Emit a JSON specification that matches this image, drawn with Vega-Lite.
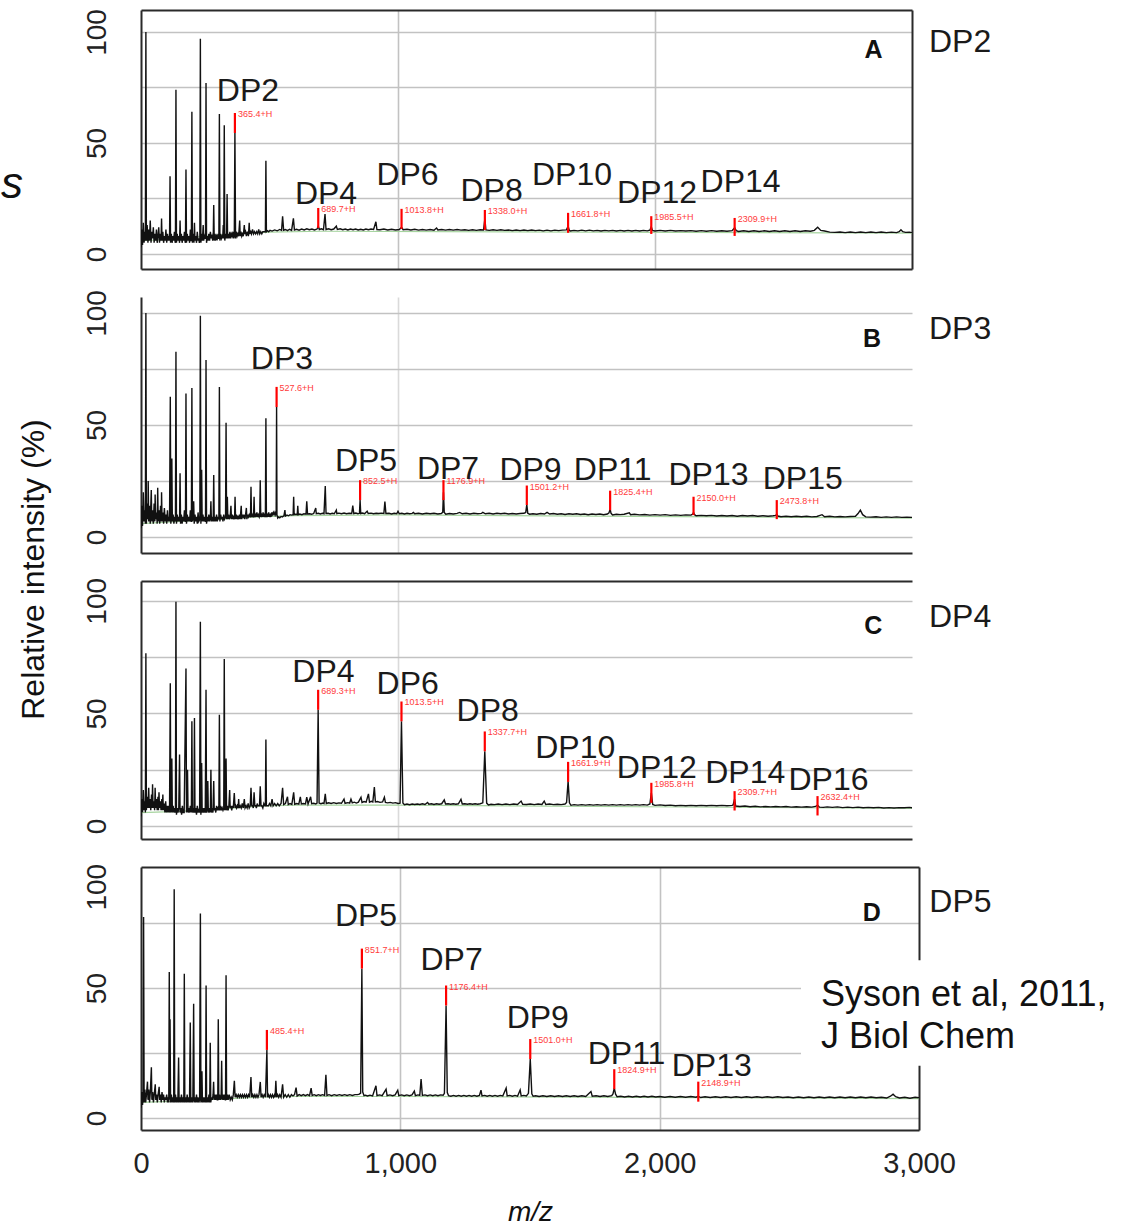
{
"$schema": "https://vega.github.io/schema/vega-lite/v6.json",
"usermeta": {"embedOptions": {"actions": false}},
"background": "white",
"padding": {"left": 0, "top": 8, "right": 0, "bottom": 0},
"config": {
  "font": "Liberation Sans",
  "view": {"stroke": null},
  "axis": {"domainColor": "#2a2a2a", "domainWidth": 2, "ticks": false, "gridColor": "#c2c2c2", "gridWidth": 1.6, "labelFont": "Liberation Sans", "labelColor": "#222", "labelFlush": false, "labelOverlap": false, "titleFont": "Liberation Sans", "titleFontWeight": "normal", "titleColor": "#111"},
  "axisY": {"labelAngle": -90, "labelAlign": "center", "labelBaseline": "alphabetic", "labelPadding": 36, "labelFontSize": 28},
  "axisX": {"labelFontSize": 29, "labelPadding": 19, "labelAlign": "center"}
},
"datasets": {
"A": [{"m":0,"v":3},{"m":3,"v":11},{"m":6,"v":4},{"m":9,"v":14},{"m":12,"v":5},{"m":15,"v":10},{"m":17,"v":6},{"m":19,"v":100},{"m":21,"v":6},{"m":24,"v":13},{"m":27,"v":5},{"m":30,"v":11},{"m":33,"v":6},{"m":36,"v":15},{"m":39,"v":5},{"m":42,"v":10},{"m":45,"v":7},{"m":48,"v":12},{"m":51,"v":5},{"m":54,"v":9},{"m":57,"v":6},{"m":60,"v":11},{"m":63,"v":5},{"m":66,"v":8},{"m":69,"v":12},{"m":72,"v":5},{"m":75,"v":9},{"m":78,"v":6},{"m":80,"v":16},{"m":82,"v":6},{"m":85,"v":10},{"m":88,"v":5},{"m":91,"v":8},{"m":94,"v":6},{"m":97,"v":11},{"m":100,"v":5},{"m":103,"v":9},{"m":106,"v":6},{"m":109,"v":8},{"m":111,"v":6},{"m":113,"v":35},{"m":115,"v":5},{"m":118,"v":9},{"m":121,"v":5},{"m":124,"v":8},{"m":127,"v":6},{"m":130,"v":10},{"m":133,"v":5},{"m":134,"v":6},{"m":136,"v":74},{"m":138,"v":5},{"m":141,"v":9},{"m":144,"v":6},{"m":147,"v":8},{"m":150,"v":5},{"m":152,"v":15},{"m":154,"v":6},{"m":157,"v":9},{"m":160,"v":5},{"m":163,"v":8},{"m":166,"v":6},{"m":169,"v":10},{"m":172,"v":5},{"m":173,"v":6},{"m":175,"v":38},{"m":177,"v":5},{"m":180,"v":9},{"m":183,"v":6},{"m":186,"v":8},{"m":189,"v":5},{"m":192,"v":11},{"m":194,"v":6},{"m":196,"v":6},{"m":198,"v":64},{"m":200,"v":5},{"m":203,"v":9},{"m":206,"v":5},{"m":208,"v":14},{"m":210,"v":6},{"m":213,"v":8},{"m":216,"v":5},{"m":219,"v":10},{"m":222,"v":6},{"m":225,"v":7},{"m":227,"v":5},{"m":229,"v":7},{"m":231,"v":97},{"m":233,"v":5},{"m":236,"v":9},{"m":239,"v":6},{"m":242,"v":13},{"m":244,"v":6},{"m":247,"v":8},{"m":250,"v":7},{"m":251,"v":7},{"m":253,"v":77},{"m":255,"v":5},{"m":258,"v":8},{"m":261,"v":6},{"m":264,"v":9},{"m":267,"v":6},{"m":270,"v":10},{"m":273,"v":7},{"m":276,"v":8},{"m":279,"v":6},{"m":281,"v":7},{"m":283,"v":22},{"m":285,"v":6},{"m":288,"v":9},{"m":291,"v":6},{"m":294,"v":8},{"m":297,"v":7},{"m":300,"v":9},{"m":302,"v":7},{"m":303,"v":7},{"m":305,"v":63},{"m":307,"v":6},{"m":310,"v":9},{"m":313,"v":7},{"m":316,"v":8},{"m":318,"v":7},{"m":320,"v":13},{"m":322,"v":7},{"m":324,"v":58},{"m":326,"v":6},{"m":329,"v":9},{"m":332,"v":7},{"m":333,"v":8},{"m":335,"v":27},{"m":337,"v":7},{"m":340,"v":9},{"m":343,"v":7},{"m":346,"v":10},{"m":349,"v":7},{"m":352,"v":9},{"m":355,"v":8},{"m":358,"v":10},{"m":361,"v":7},{"m":363,"v":8},{"m":365.4,"v":55},{"m":368,"v":7},{"m":371,"v":10},{"m":374,"v":8},{"m":377,"v":9},{"m":380,"v":8},{"m":384,"v":15},{"m":386,"v":8},{"m":389,"v":10},{"m":392,"v":8},{"m":395,"v":9},{"m":398,"v":8},{"m":402,"v":13},{"m":404,"v":9},{"m":407,"v":10},{"m":410,"v":8},{"m":414,"v":10},{"m":418,"v":8},{"m":421,"v":14},{"m":423,"v":9},{"m":427,"v":10},{"m":430,"v":9},{"m":434,"v":11},{"m":438,"v":9},{"m":442,"v":10},{"m":446,"v":9},{"m":450,"v":10},{"m":454,"v":9},{"m":458,"v":11},{"m":462,"v":9},{"m":466,"v":10},{"m":470,"v":9},{"m":474,"v":10},{"m":478,"v":10},{"m":482,"v":10},{"m":484,"v":10},{"m":486,"v":42},{"m":488,"v":10},{"m":492,"v":10.5},{"m":497,"v":10},{"m":502,"v":10.6},{"m":510,"v":10.3},{"m":520,"v":10.8},{"m":530,"v":10.4},{"m":540,"v":11},{"m":547,"v":10.6},{"m":551,"v":17},{"m":555,"v":10.7},{"m":562,"v":11},{"m":570,"v":10.5},{"m":578,"v":11.1},{"m":586,"v":10.6},{"m":593,"v":16},{"m":597,"v":10.8},{"m":605,"v":11.1},{"m":615,"v":10.7},{"m":625,"v":11.2},{"m":635,"v":10.8},{"m":645,"v":11.3},{"m":655,"v":10.9},{"m":665,"v":11.2},{"m":675,"v":10.8},{"m":685,"v":11.2},{"m":689.7,"v":12.5},{"m":694,"v":11},{"m":702,"v":11.3},{"m":710,"v":10.9},{"m":716,"v":18},{"m":720,"v":11},{"m":730,"v":11.3},{"m":740,"v":10.9},{"m":750,"v":11.2},{"m":760,"v":12.5},{"m":764,"v":11},{"m":775,"v":11.3},{"m":785,"v":10.9},{"m":795,"v":11.2},{"m":805,"v":10.8},{"m":815,"v":11.2},{"m":825,"v":10.9},{"m":835,"v":11.2},{"m":845,"v":10.8},{"m":855,"v":11.1},{"m":865,"v":10.8},{"m":875,"v":11.2},{"m":885,"v":10.9},{"m":895,"v":11.2},{"m":905,"v":11},{"m":914,"v":14.5},{"m":918,"v":11},{"m":930,"v":10.9},{"m":945,"v":11.2},{"m":960,"v":10.8},{"m":975,"v":11.1},{"m":990,"v":10.8},{"m":1005,"v":11},{"m":1013.8,"v":12},{"m":1020,"v":10.9},{"m":1035,"v":11.1},{"m":1050,"v":10.8},{"m":1065,"v":11.1},{"m":1080,"v":10.7},{"m":1095,"v":11},{"m":1110,"v":10.7},{"m":1125,"v":11},{"m":1140,"v":10.7},{"m":1150,"v":11.7},{"m":1155,"v":10.8},{"m":1170,"v":11},{"m":1185,"v":10.7},{"m":1200,"v":11},{"m":1215,"v":10.7},{"m":1230,"v":11},{"m":1245,"v":10.7},{"m":1260,"v":10.9},{"m":1275,"v":10.6},{"m":1290,"v":10.9},{"m":1305,"v":10.6},{"m":1320,"v":10.9},{"m":1333,"v":10.8},{"m":1338,"v":15.8},{"m":1342,"v":10.8},{"m":1355,"v":10.6},{"m":1370,"v":10.9},{"m":1385,"v":10.6},{"m":1400,"v":10.9},{"m":1415,"v":10.6},{"m":1430,"v":10.8},{"m":1445,"v":10.5},{"m":1460,"v":10.8},{"m":1475,"v":10.5},{"m":1490,"v":10.8},{"m":1505,"v":10.5},{"m":1520,"v":10.8},{"m":1535,"v":10.5},{"m":1550,"v":10.7},{"m":1565,"v":10.4},{"m":1580,"v":10.7},{"m":1595,"v":10.4},{"m":1610,"v":10.7},{"m":1625,"v":10.5},{"m":1640,"v":10.7},{"m":1655,"v":10.8},{"m":1661.8,"v":12.5},{"m":1666,"v":10.8},{"m":1670,"v":10.3},{"m":1685,"v":10.6},{"m":1700,"v":10.4},{"m":1715,"v":10.7},{"m":1730,"v":10.4},{"m":1745,"v":10.7},{"m":1760,"v":10.4},{"m":1775,"v":10.6},{"m":1790,"v":10.3},{"m":1805,"v":10.6},{"m":1820,"v":10.4},{"m":1835,"v":10.6},{"m":1850,"v":10.3},{"m":1865,"v":10.6},{"m":1880,"v":10.3},{"m":1895,"v":10.6},{"m":1910,"v":10.3},{"m":1925,"v":10.6},{"m":1940,"v":10.3},{"m":1955,"v":10.6},{"m":1970,"v":10.4},{"m":1980,"v":10.7},{"m":1985.5,"v":12.2},{"m":1990,"v":10.6},{"m":2000,"v":10.3},{"m":2020,"v":10.6},{"m":2040,"v":10.3},{"m":2060,"v":10.6},{"m":2080,"v":10.3},{"m":2100,"v":10.5},{"m":2120,"v":10.3},{"m":2140,"v":10.5},{"m":2160,"v":10.2},{"m":2180,"v":10.5},{"m":2200,"v":10.2},{"m":2220,"v":10.5},{"m":2240,"v":10.2},{"m":2260,"v":10.4},{"m":2280,"v":10.2},{"m":2300,"v":10.5},{"m":2309.9,"v":11.8},{"m":2316,"v":10.5},{"m":2325,"v":10.1},{"m":2345,"v":10.4},{"m":2365,"v":10.1},{"m":2385,"v":10.4},{"m":2405,"v":10.1},{"m":2425,"v":10.4},{"m":2445,"v":10.1},{"m":2465,"v":10.4},{"m":2485,"v":10.1},{"m":2505,"v":10.4},{"m":2525,"v":10.1},{"m":2545,"v":10.4},{"m":2565,"v":10.1},{"m":2585,"v":10.4},{"m":2605,"v":10.2},{"m":2620,"v":10.6},{"m":2633,"v":12},{"m":2645,"v":10.6},{"m":2660,"v":10.3},{"m":2680,"v":9.8},{"m":2700,"v":9.7},{"m":2720,"v":9.9},{"m":2740,"v":9.6},{"m":2760,"v":9.9},{"m":2780,"v":9.6},{"m":2800,"v":9.9},{"m":2820,"v":9.6},{"m":2840,"v":9.9},{"m":2860,"v":9.6},{"m":2880,"v":9.9},{"m":2900,"v":9.6},{"m":2920,"v":9.8},{"m":2940,"v":9.6},{"m":2950,"v":10},{"m":2957,"v":10.9},{"m":2964,"v":10},{"m":2975,"v":9.7},{"m":2990,"v":9.8},{"m":3000,"v":9.6}],
"B": [{"m":0,"v":4},{"m":3,"v":14},{"m":6,"v":5},{"m":9,"v":20},{"m":12,"v":7},{"m":15,"v":12},{"m":17,"v":6},{"m":19,"v":100},{"m":21,"v":6},{"m":24,"v":15},{"m":27,"v":8},{"m":28,"v":25},{"m":30,"v":7},{"m":33,"v":14},{"m":36,"v":6},{"m":40,"v":21},{"m":42,"v":7},{"m":45,"v":12},{"m":48,"v":6},{"m":51,"v":15},{"m":54,"v":7},{"m":55,"v":19},{"m":57,"v":8},{"m":60,"v":11},{"m":63,"v":6},{"m":65,"v":22},{"m":67,"v":7},{"m":70,"v":12},{"m":73,"v":6},{"m":76,"v":14},{"m":79,"v":7},{"m":80,"v":20},{"m":82,"v":7},{"m":85,"v":11},{"m":88,"v":6},{"m":91,"v":13},{"m":94,"v":7},{"m":97,"v":10},{"m":100,"v":6},{"m":103,"v":12},{"m":106,"v":7},{"m":109,"v":9},{"m":111,"v":7},{"m":114,"v":62.6},{"m":116,"v":6},{"m":118,"v":9},{"m":120,"v":35},{"m":122,"v":7},{"m":125,"v":10},{"m":128,"v":6},{"m":131,"v":9},{"m":134,"v":7},{"m":136,"v":82.7},{"m":138,"v":6},{"m":141,"v":10},{"m":144,"v":7},{"m":147,"v":9},{"m":150,"v":7},{"m":152,"v":28.5},{"m":154,"v":6},{"m":157,"v":10},{"m":160,"v":6},{"m":163,"v":9},{"m":166,"v":7},{"m":169,"v":12},{"m":172,"v":7},{"m":173,"v":7},{"m":175,"v":64},{"m":177,"v":6},{"m":180,"v":10},{"m":183,"v":7},{"m":186,"v":9},{"m":189,"v":7},{"m":192,"v":12},{"m":195,"v":7},{"m":196,"v":7},{"m":198,"v":66.5},{"m":200,"v":7},{"m":203,"v":9},{"m":205,"v":16},{"m":207,"v":6},{"m":210,"v":10},{"m":213,"v":7},{"m":216,"v":9},{"m":219,"v":6},{"m":222,"v":11},{"m":225,"v":7},{"m":229,"v":8},{"m":231,"v":98.7},{"m":233,"v":6},{"m":236,"v":30},{"m":238,"v":7},{"m":241,"v":10},{"m":244,"v":7},{"m":247,"v":9},{"m":250,"v":7},{"m":251,"v":7},{"m":253,"v":79},{"m":255,"v":6},{"m":258,"v":9},{"m":261,"v":7},{"m":264,"v":10},{"m":267,"v":7},{"m":270,"v":9},{"m":272,"v":16},{"m":274,"v":7},{"m":277,"v":9},{"m":280,"v":7},{"m":281,"v":8},{"m":283,"v":27.7},{"m":285,"v":7},{"m":288,"v":9},{"m":291,"v":7},{"m":294,"v":10},{"m":297,"v":7},{"m":300,"v":9},{"m":303,"v":8},{"m":305,"v":67},{"m":307,"v":7},{"m":310,"v":10},{"m":313,"v":8},{"m":316,"v":9},{"m":319,"v":7},{"m":322,"v":10},{"m":325,"v":8},{"m":329,"v":9},{"m":331,"v":51},{"m":333,"v":8},{"m":336,"v":18},{"m":338,"v":8},{"m":341,"v":10},{"m":344,"v":8},{"m":347,"v":9},{"m":350,"v":14},{"m":352,"v":8},{"m":355,"v":10},{"m":358,"v":8},{"m":361,"v":9},{"m":364,"v":8},{"m":366,"v":18},{"m":368,"v":8},{"m":371,"v":10},{"m":374,"v":8},{"m":377,"v":9},{"m":380,"v":8},{"m":383,"v":10},{"m":386,"v":8},{"m":390,"v":14},{"m":392,"v":8},{"m":395,"v":10},{"m":398,"v":9},{"m":401,"v":10},{"m":404,"v":8},{"m":407,"v":10},{"m":410,"v":13},{"m":412,"v":8},{"m":415,"v":10},{"m":418,"v":9},{"m":421,"v":10},{"m":424,"v":9},{"m":426,"v":9},{"m":428,"v":22.5},{"m":430,"v":9},{"m":433,"v":10},{"m":436,"v":9},{"m":438,"v":9},{"m":440,"v":18},{"m":442,"v":9},{"m":445,"v":10},{"m":448,"v":9},{"m":451,"v":11},{"m":454,"v":9},{"m":457,"v":10},{"m":460,"v":9},{"m":462,"v":10},{"m":464,"v":25.4},{"m":466,"v":9},{"m":469,"v":10},{"m":472,"v":9},{"m":475,"v":11},{"m":478,"v":9},{"m":481,"v":10},{"m":484,"v":9},{"m":486,"v":53},{"m":488,"v":9},{"m":491,"v":10},{"m":494,"v":9},{"m":497,"v":11},{"m":500,"v":9},{"m":503,"v":10},{"m":506,"v":9},{"m":509,"v":11},{"m":512,"v":10},{"m":515,"v":11},{"m":518,"v":10},{"m":521,"v":11},{"m":524,"v":10},{"m":526,"v":11},{"m":527.6,"v":58},{"m":529,"v":10},{"m":532,"v":8.5},{"m":536,"v":9},{"m":540,"v":8.6},{"m":545,"v":9.2},{"m":550,"v":9},{"m":556,"v":9.5},{"m":560,"v":12},{"m":562,"v":9.4},{"m":568,"v":9.8},{"m":574,"v":9.5},{"m":580,"v":10},{"m":586,"v":9.8},{"m":592,"v":10},{"m":594,"v":18},{"m":596,"v":10},{"m":602,"v":10.2},{"m":608,"v":10},{"m":610,"v":14},{"m":612,"v":10},{"m":618,"v":10.3},{"m":626,"v":10},{"m":634,"v":10.4},{"m":642,"v":10.2},{"m":645,"v":16},{"m":648,"v":10.3},{"m":656,"v":10.4},{"m":664,"v":10.2},{"m":672,"v":10.5},{"m":680,"v":13},{"m":682,"v":10.4},{"m":690,"v":10.6},{"m":698,"v":10.3},{"m":706,"v":10.6},{"m":712,"v":10.4},{"m":717,"v":22.8},{"m":720,"v":10.5},{"m":728,"v":10.6},{"m":736,"v":10.3},{"m":744,"v":10.6},{"m":752,"v":10.4},{"m":760,"v":12},{"m":762,"v":10.5},{"m":770,"v":10.7},{"m":780,"v":10.4},{"m":790,"v":10.7},{"m":800,"v":10.4},{"m":810,"v":10.6},{"m":820,"v":10.5},{"m":824,"v":14},{"m":828,"v":10.5},{"m":836,"v":10.7},{"m":844,"v":10.4},{"m":850,"v":10.6},{"m":852.5,"v":16.5},{"m":855,"v":10.5},{"m":862,"v":10.7},{"m":870,"v":10.4},{"m":880,"v":11.5},{"m":884,"v":10.5},{"m":895,"v":10.7},{"m":905,"v":10.4},{"m":915,"v":10.6},{"m":925,"v":10.5},{"m":935,"v":10.7},{"m":945,"v":10.5},{"m":949,"v":15.8},{"m":953,"v":10.5},{"m":965,"v":10.6},{"m":975,"v":10.3},{"m":985,"v":10.6},{"m":995,"v":10.4},{"m":1000,"v":11.5},{"m":1005,"v":10.4},{"m":1015,"v":10.6},{"m":1025,"v":10.3},{"m":1035,"v":10.6},{"m":1045,"v":10.4},{"m":1055,"v":10.6},{"m":1060,"v":11},{"m":1065,"v":10.4},{"m":1080,"v":10.6},{"m":1095,"v":10.3},{"m":1110,"v":10.6},{"m":1125,"v":10.4},{"m":1140,"v":10.6},{"m":1155,"v":10.3},{"m":1168,"v":10.5},{"m":1174,"v":11},{"m":1176.9,"v":20},{"m":1180,"v":11},{"m":1186,"v":10.2},{"m":1200,"v":10.5},{"m":1215,"v":10.3},{"m":1230,"v":10.6},{"m":1240,"v":11},{"m":1250,"v":10.4},{"m":1265,"v":10.6},{"m":1280,"v":10.3},{"m":1295,"v":10.6},{"m":1310,"v":10.4},{"m":1325,"v":10.6},{"m":1330,"v":11},{"m":1340,"v":10.4},{"m":1355,"v":10.6},{"m":1370,"v":10.3},{"m":1385,"v":10.6},{"m":1400,"v":10.4},{"m":1415,"v":10.6},{"m":1430,"v":10.3},{"m":1445,"v":10.5},{"m":1460,"v":10.3},{"m":1475,"v":10.5},{"m":1490,"v":10.6},{"m":1497,"v":11},{"m":1501.2,"v":14.5},{"m":1505,"v":10.6},{"m":1512,"v":10.2},{"m":1525,"v":10.4},{"m":1540,"v":10.2},{"m":1555,"v":10.5},{"m":1570,"v":10.3},{"m":1580,"v":11},{"m":1590,"v":10.3},{"m":1605,"v":10.5},{"m":1620,"v":10.2},{"m":1635,"v":10.4},{"m":1650,"v":10.1},{"m":1665,"v":10.4},{"m":1680,"v":10.2},{"m":1695,"v":10.4},{"m":1710,"v":10.1},{"m":1725,"v":10.3},{"m":1740,"v":10},{"m":1755,"v":10.3},{"m":1770,"v":10.1},{"m":1785,"v":10.3},{"m":1800,"v":10},{"m":1815,"v":10.3},{"m":1821,"v":10.8},{"m":1825.4,"v":12.5},{"m":1829,"v":10.6},{"m":1835,"v":9.9},{"m":1850,"v":10.2},{"m":1865,"v":10},{"m":1880,"v":10.2},{"m":1900,"v":10.8},{"m":1905,"v":10},{"m":1920,"v":10.2},{"m":1940,"v":9.9},{"m":1960,"v":10.1},{"m":1980,"v":9.8},{"m":2000,"v":10},{"m":2020,"v":9.8},{"m":2040,"v":10},{"m":2060,"v":9.7},{"m":2080,"v":9.9},{"m":2100,"v":9.7},{"m":2120,"v":9.9},{"m":2140,"v":9.8},{"m":2147,"v":10.3},{"m":2150,"v":11},{"m":2154,"v":10},{"m":2160,"v":9.5},{"m":2180,"v":9.7},{"m":2200,"v":9.5},{"m":2220,"v":9.7},{"m":2240,"v":9.4},{"m":2260,"v":9.6},{"m":2280,"v":9.4},{"m":2300,"v":9.6},{"m":2320,"v":9.3},{"m":2340,"v":9.6},{"m":2360,"v":9.4},{"m":2380,"v":9.6},{"m":2400,"v":9.3},{"m":2420,"v":9.5},{"m":2440,"v":9.3},{"m":2460,"v":9.5},{"m":2470,"v":9.7},{"m":2473.8,"v":10.3},{"m":2478,"v":9.4},{"m":2490,"v":9.1},{"m":2510,"v":9.3},{"m":2530,"v":9.1},{"m":2550,"v":9.3},{"m":2570,"v":9.1},{"m":2590,"v":9.3},{"m":2610,"v":9},{"m":2630,"v":9.2},{"m":2650,"v":10},{"m":2660,"v":9.1},{"m":2680,"v":9.3},{"m":2700,"v":9},{"m":2720,"v":9.2},{"m":2740,"v":9},{"m":2760,"v":9.2},{"m":2780,"v":9.3},{"m":2790,"v":10.5},{"m":2799,"v":12},{"m":2808,"v":10},{"m":2820,"v":9},{"m":2840,"v":8.9},{"m":2860,"v":9.1},{"m":2880,"v":8.8},{"m":2900,"v":9},{"m":2920,"v":8.8},{"m":2940,"v":9},{"m":2960,"v":8.8},{"m":2980,"v":8.9},{"m":3000,"v":8.8}],
"C": [{"m":0,"v":4.4},{"m":3,"v":12},{"m":6,"v":6},{"m":9,"v":16},{"m":12,"v":7},{"m":15,"v":11},{"m":17,"v":6},{"m":19,"v":76.7},{"m":21,"v":7},{"m":24,"v":13},{"m":27,"v":8},{"m":30,"v":17},{"m":32,"v":8},{"m":35,"v":12},{"m":38,"v":7},{"m":41,"v":14},{"m":43,"v":8},{"m":45,"v":18.6},{"m":47,"v":8},{"m":50,"v":11},{"m":53,"v":7},{"m":55,"v":17},{"m":57,"v":8},{"m":60,"v":12},{"m":63,"v":7},{"m":66,"v":13},{"m":68,"v":7},{"m":70,"v":15},{"m":72,"v":8},{"m":75,"v":11},{"m":78,"v":7},{"m":81,"v":12},{"m":83,"v":7},{"m":85,"v":14},{"m":87,"v":7},{"m":90,"v":10},{"m":93,"v":6},{"m":96,"v":11},{"m":99,"v":6},{"m":102,"v":9},{"m":105,"v":6},{"m":108,"v":9},{"m":111,"v":6},{"m":114,"v":63.4},{"m":116,"v":6},{"m":118,"v":8},{"m":120,"v":30},{"m":122,"v":6},{"m":125,"v":9},{"m":128,"v":6},{"m":131,"v":8},{"m":134,"v":6},{"m":136,"v":99.6},{"m":138,"v":5},{"m":141,"v":8},{"m":144,"v":6},{"m":147,"v":8},{"m":150,"v":31.8},{"m":152,"v":6},{"m":155,"v":8},{"m":158,"v":5},{"m":161,"v":9},{"m":164,"v":6},{"m":166,"v":6},{"m":168,"v":6},{"m":175,"v":70},{"m":177,"v":6},{"m":179,"v":8},{"m":181,"v":25},{"m":183,"v":6},{"m":186,"v":8},{"m":189,"v":6},{"m":192,"v":9},{"m":195,"v":6},{"m":196,"v":7},{"m":198,"v":46.5},{"m":200,"v":6},{"m":203,"v":8},{"m":206,"v":6},{"m":208,"v":48},{"m":210,"v":6},{"m":213,"v":8},{"m":216,"v":5},{"m":219,"v":9},{"m":222,"v":6},{"m":225,"v":7},{"m":228,"v":6},{"m":231,"v":90.7},{"m":233,"v":5},{"m":236,"v":28},{"m":238,"v":6},{"m":241,"v":8},{"m":244,"v":6},{"m":247,"v":8},{"m":250,"v":6},{"m":253,"v":60.5},{"m":255,"v":6},{"m":258,"v":8},{"m":260,"v":20},{"m":262,"v":6},{"m":265,"v":8},{"m":268,"v":6},{"m":270,"v":8},{"m":272,"v":25},{"m":274,"v":6},{"m":277,"v":8},{"m":280,"v":6},{"m":283,"v":20},{"m":285,"v":7},{"m":288,"v":8},{"m":291,"v":6},{"m":294,"v":9},{"m":297,"v":7},{"m":300,"v":8},{"m":303,"v":7},{"m":305,"v":49.4},{"m":307,"v":7},{"m":310,"v":9},{"m":313,"v":7},{"m":316,"v":8},{"m":319,"v":7},{"m":322,"v":8},{"m":324,"v":74.2},{"m":326,"v":7},{"m":329,"v":8},{"m":331,"v":30},{"m":333,"v":7},{"m":336,"v":9},{"m":339,"v":7},{"m":342,"v":9},{"m":345,"v":16},{"m":347,"v":8},{"m":350,"v":9},{"m":353,"v":7},{"m":356,"v":9},{"m":359,"v":8},{"m":363,"v":14.7},{"m":366,"v":8},{"m":369,"v":9},{"m":372,"v":8},{"m":375,"v":9},{"m":378,"v":8},{"m":380,"v":12},{"m":382,"v":8},{"m":386,"v":9},{"m":390,"v":8},{"m":394,"v":10},{"m":398,"v":8},{"m":402,"v":12},{"m":405,"v":8},{"m":409,"v":9},{"m":413,"v":8},{"m":417,"v":10},{"m":421,"v":8},{"m":425,"v":9},{"m":428,"v":17},{"m":431,"v":9},{"m":434,"v":9},{"m":437,"v":8},{"m":440,"v":15},{"m":443,"v":9},{"m":446,"v":9},{"m":449,"v":8},{"m":452,"v":10},{"m":455,"v":9},{"m":458,"v":9},{"m":461,"v":9},{"m":464,"v":17.7},{"m":467,"v":9},{"m":470,"v":9},{"m":474,"v":8},{"m":478,"v":10},{"m":482,"v":9},{"m":484,"v":9},{"m":486,"v":38.4},{"m":488,"v":9},{"m":492,"v":9},{"m":496,"v":9},{"m":500,"v":10},{"m":505,"v":9},{"m":510,"v":12},{"m":514,"v":9},{"m":520,"v":10},{"m":526,"v":9},{"m":532,"v":10},{"m":538,"v":9},{"m":545,"v":10},{"m":551,"v":17},{"m":555,"v":9.5},{"m":562,"v":10},{"m":570,"v":13},{"m":573,"v":9.5},{"m":580,"v":10},{"m":587,"v":9.6},{"m":594,"v":15},{"m":598,"v":9.7},{"m":606,"v":10},{"m":614,"v":9.7},{"m":620,"v":13},{"m":624,"v":9.8},{"m":632,"v":10},{"m":640,"v":9.8},{"m":645,"v":12.8},{"m":650,"v":9.8},{"m":660,"v":13},{"m":664,"v":9.9},{"m":672,"v":10.1},{"m":680,"v":9.8},{"m":685,"v":10.2},{"m":689.3,"v":51.6},{"m":693,"v":10.2},{"m":700,"v":9.9},{"m":708,"v":10.2},{"m":712,"v":10},{"m":717,"v":14.3},{"m":721,"v":10},{"m":730,"v":10.3},{"m":740,"v":10},{"m":750,"v":10.4},{"m":760,"v":10},{"m":770,"v":10.3},{"m":780,"v":10.1},{"m":790,"v":12},{"m":794,"v":10.1},{"m":805,"v":10.4},{"m":812,"v":10.2},{"m":817,"v":11.9},{"m":822,"v":10.3},{"m":830,"v":10.6},{"m":838,"v":10.2},{"m":846,"v":10.6},{"m":856,"v":12.8},{"m":860,"v":10.5},{"m":868,"v":10.9},{"m":876,"v":10.6},{"m":885,"v":14.3},{"m":889,"v":10.6},{"m":896,"v":11},{"m":902,"v":10.7},{"m":908,"v":17.3},{"m":912,"v":10.7},{"m":920,"v":10.9},{"m":930,"v":10.5},{"m":940,"v":10.7},{"m":947,"v":12.8},{"m":951,"v":10.5},{"m":960,"v":10.3},{"m":970,"v":10.5},{"m":980,"v":10.2},{"m":990,"v":10.4},{"m":1000,"v":10},{"m":1008,"v":10.2},{"m":1013.5,"v":46.5},{"m":1019,"v":10.2},{"m":1025,"v":9.5},{"m":1035,"v":9.8},{"m":1045,"v":9.5},{"m":1055,"v":9.8},{"m":1065,"v":9.6},{"m":1075,"v":9.8},{"m":1085,"v":9.6},{"m":1095,"v":9.9},{"m":1105,"v":9.6},{"m":1115,"v":10.5},{"m":1120,"v":9.7},{"m":1130,"v":9.9},{"m":1140,"v":9.6},{"m":1150,"v":9.9},{"m":1160,"v":9.7},{"m":1170,"v":9.9},{"m":1180,"v":11.6},{"m":1185,"v":9.8},{"m":1195,"v":9.9},{"m":1205,"v":9.7},{"m":1215,"v":9.9},{"m":1225,"v":9.7},{"m":1235,"v":9.9},{"m":1245,"v":11.9},{"m":1250,"v":9.8},{"m":1260,"v":9.9},{"m":1270,"v":9.7},{"m":1280,"v":9.9},{"m":1290,"v":9.7},{"m":1300,"v":9.9},{"m":1310,"v":9.7},{"m":1320,"v":9.9},{"m":1330,"v":10.3},{"m":1337.7,"v":33.2},{"m":1345,"v":10.2},{"m":1352,"v":9.4},{"m":1362,"v":9.7},{"m":1375,"v":9.5},{"m":1390,"v":9.8},{"m":1405,"v":9.5},{"m":1420,"v":9.8},{"m":1435,"v":9.5},{"m":1450,"v":9.8},{"m":1465,"v":9.6},{"m":1479,"v":11.1},{"m":1485,"v":9.7},{"m":1500,"v":9.6},{"m":1515,"v":9.8},{"m":1530,"v":9.5},{"m":1545,"v":9.8},{"m":1560,"v":9.6},{"m":1569,"v":11.1},{"m":1575,"v":9.6},{"m":1590,"v":9.8},{"m":1605,"v":9.5},{"m":1620,"v":9.7},{"m":1635,"v":9.5},{"m":1650,"v":9.8},{"m":1656,"v":10.5},{"m":1661.9,"v":20},{"m":1667,"v":10.3},{"m":1673,"v":9.2},{"m":1685,"v":9.5},{"m":1700,"v":9.3},{"m":1715,"v":9.5},{"m":1730,"v":9.3},{"m":1745,"v":9.5},{"m":1760,"v":9.3},{"m":1775,"v":9.5},{"m":1790,"v":9.3},{"m":1805,"v":9.5},{"m":1820,"v":9.3},{"m":1835,"v":9.5},{"m":1850,"v":9.3},{"m":1865,"v":9.5},{"m":1880,"v":9.3},{"m":1895,"v":9.5},{"m":1910,"v":9.3},{"m":1925,"v":9.5},{"m":1940,"v":9.3},{"m":1955,"v":9.5},{"m":1970,"v":9.3},{"m":1980,"v":9.8},{"m":1985.8,"v":14.7},{"m":1991,"v":9.6},{"m":2000,"v":9.2},{"m":2020,"v":9.4},{"m":2040,"v":9.1},{"m":2060,"v":9.3},{"m":2080,"v":9},{"m":2100,"v":9.2},{"m":2120,"v":9},{"m":2140,"v":9.2},{"m":2160,"v":9},{"m":2180,"v":9.2},{"m":2200,"v":9},{"m":2220,"v":9.2},{"m":2240,"v":9},{"m":2260,"v":9.2},{"m":2280,"v":9},{"m":2300,"v":9.2},{"m":2304,"v":9.4},{"m":2309.7,"v":12},{"m":2314,"v":8.9},{"m":2330,"v":8.7},{"m":2350,"v":8.9},{"m":2370,"v":8.6},{"m":2390,"v":8.8},{"m":2410,"v":8.5},{"m":2430,"v":8.7},{"m":2450,"v":8.5},{"m":2470,"v":8.7},{"m":2490,"v":8.5},{"m":2510,"v":8.7},{"m":2530,"v":8.4},{"m":2550,"v":8.6},{"m":2570,"v":8.4},{"m":2590,"v":8.6},{"m":2610,"v":8.4},{"m":2625,"v":8.7},{"m":2632.4,"v":9.3},{"m":2640,"v":8.4},{"m":2655,"v":8.3},{"m":2670,"v":8.5},{"m":2690,"v":8.3},{"m":2710,"v":8.5},{"m":2730,"v":8.2},{"m":2750,"v":8.4},{"m":2770,"v":8.2},{"m":2790,"v":8.4},{"m":2810,"v":8.1},{"m":2830,"v":8.3},{"m":2850,"v":8.1},{"m":2870,"v":8.3},{"m":2890,"v":8},{"m":2910,"v":8.2},{"m":2930,"v":8},{"m":2950,"v":8.2},{"m":2970,"v":8.1},{"m":2990,"v":8.3},{"m":3000,"v":8.1}],
"D": [{"m":0,"v":4},{"m":3,"v":10},{"m":6,"v":5},{"m":8,"v":8},{"m":10,"v":77.4},{"m":12,"v":6},{"m":15,"v":11},{"m":18,"v":6},{"m":21,"v":9},{"m":25,"v":14},{"m":27,"v":7},{"m":30,"v":11},{"m":33,"v":6},{"m":36,"v":10},{"m":40,"v":19.5},{"m":42,"v":7},{"m":45,"v":10},{"m":48,"v":6},{"m":51,"v":9},{"m":55,"v":13},{"m":57,"v":7},{"m":60,"v":9},{"m":63,"v":6},{"m":66,"v":9},{"m":70,"v":12},{"m":72,"v":7},{"m":75,"v":9},{"m":78,"v":6},{"m":81,"v":10},{"m":84,"v":7},{"m":87,"v":9},{"m":90,"v":6},{"m":93,"v":8},{"m":96,"v":7},{"m":99,"v":9},{"m":102,"v":6},{"m":105,"v":8},{"m":107,"v":6},{"m":109,"v":56.2},{"m":111,"v":7},{"m":112,"v":38},{"m":114,"v":6},{"m":117,"v":9},{"m":120,"v":6},{"m":123,"v":8},{"m":126,"v":6},{"m":128,"v":88},{"m":130,"v":6},{"m":133,"v":9},{"m":136,"v":6},{"m":139,"v":8},{"m":142,"v":6},{"m":145,"v":23.3},{"m":147,"v":6},{"m":150,"v":8},{"m":153,"v":6},{"m":156,"v":9},{"m":159,"v":6},{"m":162,"v":8},{"m":165,"v":6},{"m":167,"v":55.5},{"m":169,"v":6},{"m":172,"v":8},{"m":175,"v":6},{"m":178,"v":9},{"m":181,"v":6},{"m":184,"v":8},{"m":187,"v":6},{"m":190,"v":36.8},{"m":192,"v":6},{"m":195,"v":8},{"m":198,"v":6},{"m":200,"v":7},{"m":203,"v":44},{"m":205,"v":6},{"m":208,"v":8},{"m":211,"v":6},{"m":214,"v":9},{"m":217,"v":6},{"m":220,"v":8},{"m":223,"v":6},{"m":226,"v":7},{"m":229,"v":78.7},{"m":231,"v":6},{"m":233,"v":8},{"m":235,"v":18},{"m":237,"v":6},{"m":240,"v":8},{"m":243,"v":6},{"m":246,"v":8},{"m":249,"v":6},{"m":251,"v":51},{"m":253,"v":6},{"m":256,"v":8},{"m":259,"v":6},{"m":262,"v":9},{"m":265,"v":6},{"m":267,"v":29},{"m":269,"v":6},{"m":272,"v":8},{"m":275,"v":7},{"m":278,"v":9},{"m":280,"v":14},{"m":282,"v":7},{"m":285,"v":9},{"m":288,"v":7},{"m":291,"v":9},{"m":294,"v":7},{"m":296,"v":7},{"m":298,"v":38},{"m":300,"v":7},{"m":303,"v":9},{"m":306,"v":7},{"m":309,"v":8},{"m":311,"v":22},{"m":313,"v":7},{"m":316,"v":9},{"m":319,"v":7},{"m":322,"v":9},{"m":325,"v":7},{"m":326,"v":7},{"m":328,"v":54.9},{"m":330,"v":7},{"m":333,"v":9},{"m":336,"v":7},{"m":340,"v":9},{"m":344,"v":7},{"m":348,"v":8},{"m":352,"v":7},{"m":356,"v":9},{"m":360,"v":14.3},{"m":363,"v":8},{"m":367,"v":9},{"m":371,"v":8},{"m":375,"v":9},{"m":379,"v":8},{"m":383,"v":9},{"m":387,"v":8},{"m":391,"v":9},{"m":395,"v":8},{"m":399,"v":9},{"m":403,"v":8},{"m":407,"v":9},{"m":411,"v":8},{"m":415,"v":9},{"m":419,"v":8},{"m":424,"v":15.8},{"m":427,"v":8},{"m":431,"v":9},{"m":435,"v":8},{"m":439,"v":9},{"m":443,"v":8},{"m":447,"v":9},{"m":451,"v":8},{"m":455,"v":9},{"m":460,"v":13.9},{"m":463,"v":8},{"m":467,"v":9},{"m":471,"v":8},{"m":475,"v":9},{"m":480,"v":8},{"m":485.4,"v":26.2},{"m":488,"v":8},{"m":491,"v":9},{"m":495,"v":8},{"m":499,"v":9},{"m":503,"v":8},{"m":507,"v":9},{"m":511,"v":8},{"m":515,"v":9},{"m":517,"v":8},{"m":520,"v":14.3},{"m":523,"v":8},{"m":527,"v":9},{"m":531,"v":8},{"m":535,"v":9},{"m":540,"v":8},{"m":546,"v":13},{"m":550,"v":8},{"m":556,"v":9},{"m":562,"v":8},{"m":568,"v":9},{"m":574,"v":8},{"m":580,"v":9},{"m":586,"v":8.5},{"m":592,"v":9},{"m":598,"v":11.7},{"m":602,"v":8.5},{"m":610,"v":9},{"m":618,"v":8.6},{"m":626,"v":9},{"m":634,"v":8.6},{"m":642,"v":9},{"m":650,"v":8.6},{"m":656,"v":11.5},{"m":660,"v":8.7},{"m":668,"v":9},{"m":676,"v":8.6},{"m":684,"v":9},{"m":692,"v":8.7},{"m":700,"v":9},{"m":708,"v":8.7},{"m":713,"v":16.6},{"m":717,"v":8.7},{"m":725,"v":9},{"m":735,"v":8.6},{"m":745,"v":9},{"m":755,"v":8.7},{"m":765,"v":9},{"m":775,"v":8.7},{"m":785,"v":9},{"m":795,"v":8.7},{"m":805,"v":9},{"m":815,"v":8.7},{"m":825,"v":9},{"m":835,"v":9},{"m":842,"v":9.2},{"m":847,"v":9.6},{"m":851.7,"v":57.5},{"m":855,"v":10},{"m":860,"v":8.6},{"m":866,"v":8.8},{"m":873,"v":8.5},{"m":883,"v":8.8},{"m":893,"v":8.5},{"m":906,"v":12.4},{"m":910,"v":8.6},{"m":920,"v":8.9},{"m":930,"v":8.6},{"m":945,"v":11.1},{"m":949,"v":8.6},{"m":960,"v":8.9},{"m":970,"v":8.6},{"m":980,"v":8.9},{"m":990,"v":10.7},{"m":994,"v":8.6},{"m":1005,"v":8.9},{"m":1015,"v":8.6},{"m":1025,"v":8.9},{"m":1035,"v":8.6},{"m":1045,"v":8.9},{"m":1054,"v":10.4},{"m":1058,"v":8.6},{"m":1068,"v":8.9},{"m":1075,"v":8.7},{"m":1080,"v":15},{"m":1085,"v":8.7},{"m":1095,"v":8.9},{"m":1105,"v":8.6},{"m":1115,"v":8.9},{"m":1125,"v":8.6},{"m":1135,"v":8.9},{"m":1145,"v":8.6},{"m":1155,"v":8.9},{"m":1165,"v":8.8},{"m":1170,"v":9.5},{"m":1176.4,"v":43.3},{"m":1181,"v":9.8},{"m":1186,"v":8.6},{"m":1195,"v":8.4},{"m":1205,"v":8.7},{"m":1215,"v":8.4},{"m":1225,"v":8.7},{"m":1235,"v":8.4},{"m":1245,"v":8.7},{"m":1255,"v":8.4},{"m":1265,"v":8.7},{"m":1275,"v":8.4},{"m":1285,"v":8.7},{"m":1295,"v":8.4},{"m":1305,"v":8.7},{"m":1311,"v":10.7},{"m":1315,"v":8.5},{"m":1325,"v":8.7},{"m":1335,"v":8.4},{"m":1345,"v":8.7},{"m":1355,"v":8.4},{"m":1365,"v":8.7},{"m":1375,"v":8.4},{"m":1385,"v":8.7},{"m":1395,"v":8.5},{"m":1408,"v":11.5},{"m":1412,"v":8.5},{"m":1422,"v":8.7},{"m":1432,"v":8.4},{"m":1442,"v":8.7},{"m":1452,"v":8.4},{"m":1462,"v":10.8},{"m":1466,"v":8.5},{"m":1476,"v":8.7},{"m":1486,"v":8.5},{"m":1494,"v":9.5},{"m":1501,"v":22.7},{"m":1507,"v":9.3},{"m":1512,"v":8.4},{"m":1522,"v":8.6},{"m":1535,"v":8.3},{"m":1550,"v":8.6},{"m":1565,"v":8.3},{"m":1580,"v":8.6},{"m":1595,"v":8.3},{"m":1610,"v":8.6},{"m":1625,"v":8.3},{"m":1640,"v":8.6},{"m":1655,"v":8.3},{"m":1670,"v":8.6},{"m":1685,"v":8.3},{"m":1700,"v":8.6},{"m":1715,"v":8.3},{"m":1735,"v":10.2},{"m":1740,"v":8.4},{"m":1755,"v":8.6},{"m":1770,"v":8.3},{"m":1785,"v":8.6},{"m":1800,"v":8.3},{"m":1815,"v":8.6},{"m":1820,"v":9.3},{"m":1824.9,"v":11.5},{"m":1830,"v":9.2},{"m":1836,"v":8.2},{"m":1850,"v":8.4},{"m":1865,"v":8.1},{"m":1880,"v":8.4},{"m":1895,"v":8.1},{"m":1910,"v":8.4},{"m":1925,"v":8.1},{"m":1940,"v":8.4},{"m":1955,"v":8.1},{"m":1970,"v":8.4},{"m":1985,"v":8.1},{"m":2000,"v":8.3},{"m":2020,"v":8},{"m":2040,"v":8.3},{"m":2060,"v":8},{"m":2080,"v":8.3},{"m":2100,"v":8},{"m":2120,"v":8.3},{"m":2140,"v":8},{"m":2148.9,"v":8.4},{"m":2158,"v":7.9},{"m":2175,"v":8.2},{"m":2195,"v":7.9},{"m":2215,"v":8.2},{"m":2235,"v":7.9},{"m":2255,"v":8.2},{"m":2275,"v":7.9},{"m":2295,"v":8.2},{"m":2315,"v":7.9},{"m":2335,"v":8.2},{"m":2355,"v":7.9},{"m":2375,"v":8.2},{"m":2395,"v":7.9},{"m":2415,"v":8.2},{"m":2435,"v":7.9},{"m":2455,"v":8.2},{"m":2475,"v":7.9},{"m":2495,"v":8.1},{"m":2515,"v":7.8},{"m":2535,"v":8.1},{"m":2555,"v":7.8},{"m":2575,"v":8.1},{"m":2595,"v":7.8},{"m":2615,"v":8.1},{"m":2635,"v":7.8},{"m":2655,"v":8.1},{"m":2675,"v":7.8},{"m":2695,"v":8.1},{"m":2715,"v":7.8},{"m":2735,"v":8.1},{"m":2755,"v":7.8},{"m":2775,"v":8.1},{"m":2795,"v":7.8},{"m":2815,"v":8.1},{"m":2835,"v":7.8},{"m":2855,"v":8},{"m":2875,"v":7.7},{"m":2890,"v":8.4},{"m":2900,"v":9.2},{"m":2910,"v":8.2},{"m":2925,"v":7.7},{"m":2945,"v":8},{"m":2965,"v":7.6},{"m":2985,"v":8},{"m":3000,"v":7.8}],
"g": [{"p":"A","m":0,"v":6},{"p":"A","m":100,"v":6.5},{"p":"A","m":200,"v":7.5},{"p":"A","m":300,"v":8.5},{"p":"A","m":400,"v":9.3},{"p":"A","m":500,"v":9.8},{"p":"A","m":700,"v":10.2},{"p":"A","m":3000,"v":9.4},
      {"p":"B","m":0,"v":6},{"p":"B","m":150,"v":7},{"p":"B","m":300,"v":8},{"p":"B","m":450,"v":9},{"p":"B","m":600,"v":9.6},{"p":"B","m":1000,"v":9.9},{"p":"B","m":3000,"v":8.5},
      {"p":"C","m":0,"v":6},{"p":"C","m":150,"v":6.5},{"p":"C","m":300,"v":7.5},{"p":"C","m":450,"v":8.8},{"p":"C","m":600,"v":9.3},{"p":"C","m":1000,"v":9.3},{"p":"C","m":3000,"v":7.8},
      {"p":"D","m":0,"v":6},{"p":"D","m":150,"v":6.5},{"p":"D","m":300,"v":7.3},{"p":"D","m":450,"v":8},{"p":"D","m":600,"v":8.3},{"p":"D","m":1000,"v":8.3},{"p":"D","m":3000,"v":7.5}],
"ann": [
 {"p":"A","k":"pk","m":365.4,"lo":54.5,"hi":63.5,"t":"365.4+H"},
 {"p":"A","k":"pk","m":689.7,"lo":11.7,"hi":20.7,"t":"689.7+H"},
 {"p":"A","k":"pk","m":1013.8,"lo":11.3,"hi":20.3,"t":"1013.8+H"},
 {"p":"A","k":"pk","m":1338.0,"lo":10.8,"hi":19.8,"t":"1338.0+H"},
 {"p":"A","k":"pk","m":1661.8,"lo":9.5,"hi":18.5,"t":"1661.8+H"},
 {"p":"A","k":"pk","m":1985.5,"lo":9,"hi":17,"t":"1985.5+H"},
 {"p":"A","k":"pk","m":2309.9,"lo":8.1,"hi":16.2,"t":"2309.9+H"},
 {"p":"B","k":"pk","m":527.6,"lo":58,"hi":67,"t":"527.6+H"},
 {"p":"B","k":"pk","m":852.5,"lo":16.5,"hi":25.4,"t":"852.5+H"},
 {"p":"B","k":"pk","m":1176.9,"lo":16.5,"hi":25.4,"t":"1176.9+H"},
 {"p":"B","k":"pk","m":1501.2,"lo":14.3,"hi":23,"t":"1501.2+H"},
 {"p":"B","k":"pk","m":1825.4,"lo":12,"hi":20.7,"t":"1825.4+H"},
 {"p":"B","k":"pk","m":2150.0,"lo":9.8,"hi":18,"t":"2150.0+H"},
 {"p":"B","k":"pk","m":2473.8,"lo":8,"hi":16.5,"t":"2473.8+H"},
 {"p":"C","k":"pk","m":689.3,"lo":51.6,"hi":60.5,"t":"689.3+H"},
 {"p":"C","k":"pk","m":1013.5,"lo":46.5,"hi":55.3,"t":"1013.5+H"},
 {"p":"C","k":"pk","m":1337.7,"lo":33.2,"hi":42,"t":"1337.7+H"},
 {"p":"C","k":"pk","m":1661.9,"lo":19.6,"hi":28.5,"t":"1661.9+H"},
 {"p":"C","k":"pk","m":1985.8,"lo":10.3,"hi":19.2,"t":"1985.8+H"},
 {"p":"C","k":"pk","m":2309.7,"lo":6.9,"hi":15.5,"t":"2309.7+H"},
 {"p":"C","k":"pk","m":2632.4,"lo":4.7,"hi":13.3,"t":"2632.4+H"},
 {"p":"D","k":"pk","m":485.4,"lo":26.2,"hi":33.9,"t":"485.4+H"},
 {"p":"D","k":"pk","m":851.7,"lo":57.5,"hi":65.2,"t":"851.7+H"},
 {"p":"D","k":"pk","m":1176.4,"lo":43.3,"hi":51,"t":"1176.4+H"},
 {"p":"D","k":"pk","m":1501.0,"lo":22.7,"hi":30.4,"t":"1501.0+H"},
 {"p":"D","k":"pk","m":1824.9,"lo":11.1,"hi":18.8,"t":"1824.9+H"},
 {"p":"D","k":"pk","m":2148.9,"lo":6.3,"hi":14,"t":"2148.9+H"},
 {"p":"A","k":"dp","m":416,"v":74.1,"t":"DP2"},
 {"p":"A","k":"dp","m":720,"v":27.7,"t":"DP4"},
 {"p":"A","k":"dp","m":1037,"v":36.3,"t":"DP6"},
 {"p":"A","k":"dp","m":1364,"v":29.1,"t":"DP8"},
 {"p":"A","k":"dp","m":1677,"v":36.5,"t":"DP10"},
 {"p":"A","k":"dp","m":2008,"v":28.2,"t":"DP12"},
 {"p":"A","k":"dp","m":2333,"v":33.1,"t":"DP14"},
 {"p":"B","k":"dp","m":548.6,"v":80.4,"t":"DP3"},
 {"p":"B","k":"dp","m":875.5,"v":35,"t":"DP5"},
 {"p":"B","k":"dp","m":1194.6,"v":31.3,"t":"DP7"},
 {"p":"B","k":"dp","m":1515.6,"v":30.8,"t":"DP9"},
 {"p":"B","k":"dp","m":1835.4,"v":30.8,"t":"DP11"},
 {"p":"B","k":"dp","m":2208,"v":28.6,"t":"DP13"},
 {"p":"B","k":"dp","m":2574.7,"v":26.8,"t":"DP15"},
 {"p":"C","k":"dp","m":710,"v":69.2,"t":"DP4"},
 {"p":"C","k":"dp","m":1037.7,"v":63.9,"t":"DP6"},
 {"p":"C","k":"dp","m":1349,"v":52,"t":"DP8"},
 {"p":"C","k":"dp","m":1689.5,"v":35.4,"t":"DP10"},
 {"p":"C","k":"dp","m":2007,"v":26.5,"t":"DP12"},
 {"p":"C","k":"dp","m":2351,"v":24.3,"t":"DP14"},
 {"p":"C","k":"dp","m":2675,"v":21.4,"t":"DP16"},
 {"p":"D","k":"dp","m":867.7,"v":78.4,"t":"DP5"},
 {"p":"D","k":"dp","m":1197.5,"v":61.5,"t":"DP7"},
 {"p":"D","k":"dp","m":1530,"v":39.1,"t":"DP9"},
 {"p":"D","k":"dp","m":1872.4,"v":25.4,"t":"DP11"},
 {"p":"D","k":"dp","m":2200.9,"v":20.8,"t":"DP13"},
 {"p":"A","k":"lt","m":2850,"v":92.1,"t":"A"},
 {"p":"B","k":"lt","m":2844,"v":88.4,"t":"B"},
 {"p":"C","k":"lt","m":2849,"v":88.7,"t":"C"},
 {"p":"D","k":"lt","m":2818,"v":78.9,"t":"D"},
 {"p":"A","k":"sd","m":3066,"v":95.3,"t":"DP2"},
 {"p":"B","k":"sd","m":3066,"v":92.9,"t":"DP3"},
 {"p":"C","k":"sd","m":3066,"v":92.9,"t":"DP4"},
 {"p":"D","k":"sd","m":3040,"v":83.1,"t":"DP5"},
 {"p":"A","k":"fr","m":-545,"v":31.2,"t":"s"},
 {"p":"D","k":"nt","m":2622,"v":43.3,"t":"Syson et al, 2011,"},
 {"p":"D","k":"nt","m":2622,"v":27.1,"t":"J Biol Chem"},
 {"p":"D","k":"bx","m":2545,"m2":3780,"v":20.1,"v2":60.7}
]
},
"spacing": 28,
"bounds": "flush",
"vconcat": [
{
 "width": 771, "height": 259,
 "resolve": {"axis": {"x": "independent", "y": "independent"}},
 "layer": [
  {"data": {"name": "g"}, "transform": [{"filter": "datum.p == 'A'"}],
   "mark": {"type": "line", "color": "#a6d49f", "strokeWidth": 1.2, "clip": true},
   "encoding": {
    "x": {"field": "m", "type": "quantitative", "axis": {"orient": "top", "labels": false, "grid": false, "ticks": false, "title": null, "domain": true}},
    "y": {"field": "v", "type": "quantitative", "axis": {"orient": "right", "labels": false, "grid": false, "ticks": false, "title": null, "domain": true}}}},
  {"data": {"name": "A"},
   "mark": {"type": "line", "color": "#111111", "strokeWidth": 1.4, "clip": true},
   "encoding": {
    "x": {"field": "m", "type": "quantitative", "scale": {"domain": [0, 3000], "nice": false, "zero": false}, "axis": {"orient": "bottom", "values": [1000, 2000], "grid": true, "labels": false, "title": null}},
    "y": {"field": "v", "type": "quantitative", "scale": {"domain": [-6.8, 109.9], "nice": false, "zero": false}, "axis": {"orient": "left", "values": [0, 25, 50, 75, 100], "grid": true, "labelExpr": "datum.value % 50 == 0 ? datum.label : ''", "title": null}}}},
  {"data": {"name": "ann"}, "transform": [{"filter": "datum.p == 'A' && datum.k == 'pk'"}],
   "mark": {"type": "rule", "color": "#ff0000", "strokeWidth": 2.2},
   "encoding": {"x": {"field": "m", "type": "quantitative", "axis": null}, "y": {"field": "lo", "type": "quantitative", "axis": null}, "y2": {"field": "hi"}}},
  {"data": {"name": "ann"}, "transform": [{"filter": "datum.p == 'A' && datum.k == 'pk'"}],
   "mark": {"type": "text", "color": "#ff3b3b", "fontSize": 9, "align": "left", "baseline": "middle", "dx": 3, "dy": 1},
   "encoding": {"x": {"field": "m", "type": "quantitative", "axis": null}, "y": {"field": "hi", "type": "quantitative", "axis": null}, "text": {"field": "t"}}},
  {"data": {"name": "ann"}, "transform": [{"filter": "datum.p == 'A' && datum.k == 'dp'"}],
   "mark": {"type": "text", "color": "#1a1a1a", "fontSize": 32, "align": "center", "baseline": "middle", "dy": 2},
   "encoding": {"x": {"field": "m", "type": "quantitative", "axis": null}, "y": {"field": "v", "type": "quantitative", "axis": null}, "text": {"field": "t"}}},
  {"data": {"name": "ann"}, "transform": [{"filter": "datum.p == 'A' && datum.k == 'lt'"}],
   "mark": {"type": "text", "color": "#111111", "fontSize": 25, "fontWeight": "bold", "align": "center", "baseline": "middle", "dy": 0},
   "encoding": {"x": {"field": "m", "type": "quantitative", "axis": null}, "y": {"field": "v", "type": "quantitative", "axis": null}, "text": {"field": "t"}}},
  {"data": {"name": "ann"}, "transform": [{"filter": "datum.p == 'A' && datum.k == 'sd'"}],
   "mark": {"type": "text", "color": "#1a1a1a", "fontSize": 32, "align": "left", "baseline": "middle", "dy": 0},
   "encoding": {"x": {"field": "m", "type": "quantitative", "axis": null}, "y": {"field": "v", "type": "quantitative", "axis": null}, "text": {"field": "t"}}},
  {"data": {"name": "ann"}, "transform": [{"filter": "datum.p == 'A' && datum.k == 'fr'"}],
   "mark": {"type": "text", "color": "#111111", "fontSize": 44, "fontStyle": "italic", "align": "left", "baseline": "middle"},
   "encoding": {"x": {"field": "m", "type": "quantitative", "axis": null}, "y": {"field": "v", "type": "quantitative", "axis": null}, "text": {"field": "t"}}}
 ]
},
{
 "width": 771, "height": 256,
 "resolve": {"axis": {"x": "independent", "y": "independent"}},
 "layer": [
  {"data": {"name": "g"}, "transform": [{"filter": "datum.p == 'B'"}],
   "mark": {"type": "line", "color": "#a6d49f", "strokeWidth": 1.2, "clip": true},
   "encoding": {
    "x": {"field": "m", "type": "quantitative", "axis": null},
    "y": {"field": "v", "type": "quantitative", "axis": null}}},
  {"data": {"name": "B"},
   "mark": {"type": "line", "color": "#111111", "strokeWidth": 1.4, "clip": true},
   "encoding": {
    "x": {"field": "m", "type": "quantitative", "scale": {"domain": [0, 3000], "nice": false, "zero": false}, "axis": {"orient": "bottom", "values": [1000], "grid": true, "labels": false, "title": null, "gridOpacity": 0.6}},
    "y": {"field": "v", "type": "quantitative", "scale": {"domain": [-7.1, 107.1], "nice": false, "zero": false}, "axis": {"orient": "left", "values": [0, 25, 50, 75, 100], "grid": true, "labelExpr": "datum.value % 50 == 0 ? datum.label : ''", "title": null}}}},
  {"data": {"name": "ann"}, "transform": [{"filter": "datum.p == 'B' && datum.k == 'pk'"}],
   "mark": {"type": "rule", "color": "#ff0000", "strokeWidth": 2.2},
   "encoding": {"x": {"field": "m", "type": "quantitative", "axis": null}, "y": {"field": "lo", "type": "quantitative", "axis": null}, "y2": {"field": "hi"}}},
  {"data": {"name": "ann"}, "transform": [{"filter": "datum.p == 'B' && datum.k == 'pk'"}],
   "mark": {"type": "text", "color": "#ff3b3b", "fontSize": 9, "align": "left", "baseline": "middle", "dx": 3, "dy": 1},
   "encoding": {"x": {"field": "m", "type": "quantitative", "axis": null}, "y": {"field": "hi", "type": "quantitative", "axis": null}, "text": {"field": "t"}}},
  {"data": {"name": "ann"}, "transform": [{"filter": "datum.p == 'B' && datum.k == 'dp'"}],
   "mark": {"type": "text", "color": "#1a1a1a", "fontSize": 32, "align": "center", "baseline": "middle", "dy": 2},
   "encoding": {"x": {"field": "m", "type": "quantitative", "axis": null}, "y": {"field": "v", "type": "quantitative", "axis": null}, "text": {"field": "t"}}},
  {"data": {"name": "ann"}, "transform": [{"filter": "datum.p == 'B' && datum.k == 'lt'"}],
   "mark": {"type": "text", "color": "#111111", "fontSize": 25, "fontWeight": "bold", "align": "center", "baseline": "middle", "dy": 0},
   "encoding": {"x": {"field": "m", "type": "quantitative", "axis": null}, "y": {"field": "v", "type": "quantitative", "axis": null}, "text": {"field": "t"}}},
  {"data": {"name": "ann"}, "transform": [{"filter": "datum.p == 'B' && datum.k == 'sd'"}],
   "mark": {"type": "text", "color": "#1a1a1a", "fontSize": 32, "align": "left", "baseline": "middle", "dy": 0},
   "encoding": {"x": {"field": "m", "type": "quantitative", "axis": null}, "y": {"field": "v", "type": "quantitative", "axis": null}, "text": {"field": "t"}}}
 ]
},
{
 "width": 771, "height": 258,
 "resolve": {"axis": {"x": "independent", "y": "independent"}},
 "layer": [
  {"data": {"name": "g"}, "transform": [{"filter": "datum.p == 'C'"}],
   "mark": {"type": "line", "color": "#a6d49f", "strokeWidth": 1.2, "clip": true},
   "encoding": {
    "x": {"field": "m", "type": "quantitative", "axis": {"orient": "top", "labels": false, "grid": false, "ticks": false, "title": null, "domain": true}},
    "y": {"field": "v", "type": "quantitative", "axis": null}}},
  {"data": {"name": "C"},
   "mark": {"type": "line", "color": "#111111", "strokeWidth": 1.4, "clip": true},
   "encoding": {
    "x": {"field": "m", "type": "quantitative", "scale": {"domain": [0, 3000], "nice": false, "zero": false}, "axis": {"orient": "bottom", "values": [1000], "grid": true, "labels": false, "title": null, "gridOpacity": 0.6}},
    "y": {"field": "v", "type": "quantitative", "scale": {"domain": [-5.75, 108.8], "nice": false, "zero": false}, "axis": {"orient": "left", "values": [0, 25, 50, 75, 100], "grid": true, "labelExpr": "datum.value % 50 == 0 ? datum.label : ''", "title": "Relative intensity (%)", "titleFontSize": 32, "titleX": -98, "titleY": -12, "titleAngle": -90, "titleAlign": "center", "titleBaseline": "alphabetic"}}}},
  {"data": {"name": "ann"}, "transform": [{"filter": "datum.p == 'C' && datum.k == 'pk'"}],
   "mark": {"type": "rule", "color": "#ff0000", "strokeWidth": 2.2},
   "encoding": {"x": {"field": "m", "type": "quantitative", "axis": null}, "y": {"field": "lo", "type": "quantitative", "axis": null}, "y2": {"field": "hi"}}},
  {"data": {"name": "ann"}, "transform": [{"filter": "datum.p == 'C' && datum.k == 'pk'"}],
   "mark": {"type": "text", "color": "#ff3b3b", "fontSize": 9, "align": "left", "baseline": "middle", "dx": 3, "dy": 1},
   "encoding": {"x": {"field": "m", "type": "quantitative", "axis": null}, "y": {"field": "hi", "type": "quantitative", "axis": null}, "text": {"field": "t"}}},
  {"data": {"name": "ann"}, "transform": [{"filter": "datum.p == 'C' && datum.k == 'dp'"}],
   "mark": {"type": "text", "color": "#1a1a1a", "fontSize": 32, "align": "center", "baseline": "middle", "dy": 2},
   "encoding": {"x": {"field": "m", "type": "quantitative", "axis": null}, "y": {"field": "v", "type": "quantitative", "axis": null}, "text": {"field": "t"}}},
  {"data": {"name": "ann"}, "transform": [{"filter": "datum.p == 'C' && datum.k == 'lt'"}],
   "mark": {"type": "text", "color": "#111111", "fontSize": 25, "fontWeight": "bold", "align": "center", "baseline": "middle", "dy": 0},
   "encoding": {"x": {"field": "m", "type": "quantitative", "axis": null}, "y": {"field": "v", "type": "quantitative", "axis": null}, "text": {"field": "t"}}},
  {"data": {"name": "ann"}, "transform": [{"filter": "datum.p == 'C' && datum.k == 'sd'"}],
   "mark": {"type": "text", "color": "#1a1a1a", "fontSize": 32, "align": "left", "baseline": "middle", "dy": 0},
   "encoding": {"x": {"field": "m", "type": "quantitative", "axis": null}, "y": {"field": "v", "type": "quantitative", "axis": null}, "text": {"field": "t"}}}
 ]
},
{
 "width": 778, "height": 263,
 "resolve": {"axis": {"x": "independent", "y": "independent"}},
 "layer": [
  {"data": {"name": "g"}, "transform": [{"filter": "datum.p == 'D'"}],
   "mark": {"type": "line", "color": "#a6d49f", "strokeWidth": 1.2, "clip": true},
   "encoding": {
    "x": {"field": "m", "type": "quantitative", "axis": {"orient": "top", "labels": false, "grid": false, "ticks": false, "title": null, "domain": true}},
    "y": {"field": "v", "type": "quantitative", "axis": {"orient": "right", "labels": false, "grid": false, "ticks": false, "title": null, "domain": true}}}},
  {"data": {"name": "D"},
   "mark": {"type": "line", "color": "#111111", "strokeWidth": 1.4, "clip": true},
   "encoding": {
    "x": {"field": "m", "type": "quantitative", "scale": {"domain": [0, 3000], "nice": false, "zero": false}, "axis": {"orient": "bottom", "values": [0, 1000, 2000, 3000], "format": ",d", "grid": true, "title": "m/z", "titleFontStyle": "italic", "titleFontSize": 28, "titlePadding": 20, "gridOpacity": {"condition": {"test": "datum.value == 0 || datum.value == 3000", "value": 0}, "value": 1}}},
    "y": {"field": "v", "type": "quantitative", "scale": {"domain": [-4.6, 96.6], "nice": false, "zero": false}, "axis": {"orient": "left", "values": [0, 25, 50, 75, 89], "grid": true, "labelExpr": "datum.value == 89 ? '100' : (datum.value == 0 || datum.value == 50 ? datum.label : '')", "title": null, "gridOpacity": {"condition": {"test": "datum.value == 89", "value": 0}, "value": 1}}}}},
  {"data": {"name": "ann"}, "transform": [{"filter": "datum.p == 'D' && datum.k == 'bx'"}],
   "mark": {"type": "rect", "color": "white", "opacity": 1},
   "encoding": {"x": {"field": "m", "type": "quantitative", "axis": null}, "x2": {"field": "m2"}, "y": {"field": "v", "type": "quantitative", "axis": null}, "y2": {"field": "v2"}}},
  {"data": {"name": "ann"}, "transform": [{"filter": "datum.p == 'D' && datum.k == 'pk'"}],
   "mark": {"type": "rule", "color": "#ff0000", "strokeWidth": 2.2},
   "encoding": {"x": {"field": "m", "type": "quantitative", "axis": null}, "y": {"field": "lo", "type": "quantitative", "axis": null}, "y2": {"field": "hi"}}},
  {"data": {"name": "ann"}, "transform": [{"filter": "datum.p == 'D' && datum.k == 'pk'"}],
   "mark": {"type": "text", "color": "#ff3b3b", "fontSize": 9, "align": "left", "baseline": "middle", "dx": 3, "dy": 1},
   "encoding": {"x": {"field": "m", "type": "quantitative", "axis": null}, "y": {"field": "hi", "type": "quantitative", "axis": null}, "text": {"field": "t"}}},
  {"data": {"name": "ann"}, "transform": [{"filter": "datum.p == 'D' && datum.k == 'dp'"}],
   "mark": {"type": "text", "color": "#1a1a1a", "fontSize": 32, "align": "center", "baseline": "middle", "dy": 2},
   "encoding": {"x": {"field": "m", "type": "quantitative", "axis": null}, "y": {"field": "v", "type": "quantitative", "axis": null}, "text": {"field": "t"}}},
  {"data": {"name": "ann"}, "transform": [{"filter": "datum.p == 'D' && datum.k == 'lt'"}],
   "mark": {"type": "text", "color": "#111111", "fontSize": 25, "fontWeight": "bold", "align": "center", "baseline": "middle", "dy": 0},
   "encoding": {"x": {"field": "m", "type": "quantitative", "axis": null}, "y": {"field": "v", "type": "quantitative", "axis": null}, "text": {"field": "t"}}},
  {"data": {"name": "ann"}, "transform": [{"filter": "datum.p == 'D' && datum.k == 'sd'"}],
   "mark": {"type": "text", "color": "#1a1a1a", "fontSize": 32, "align": "left", "baseline": "middle", "dy": 0},
   "encoding": {"x": {"field": "m", "type": "quantitative", "axis": null}, "y": {"field": "v", "type": "quantitative", "axis": null}, "text": {"field": "t"}}},
  {"data": {"name": "ann"}, "transform": [{"filter": "datum.p == 'D' && datum.k == 'nt'"}],
   "mark": {"type": "text", "color": "#111111", "fontSize": 36, "align": "left", "baseline": "alphabetic"},
   "encoding": {"x": {"field": "m", "type": "quantitative", "axis": null}, "y": {"field": "v", "type": "quantitative", "axis": null}, "text": {"field": "t"}}}
 ]
}
]
}
